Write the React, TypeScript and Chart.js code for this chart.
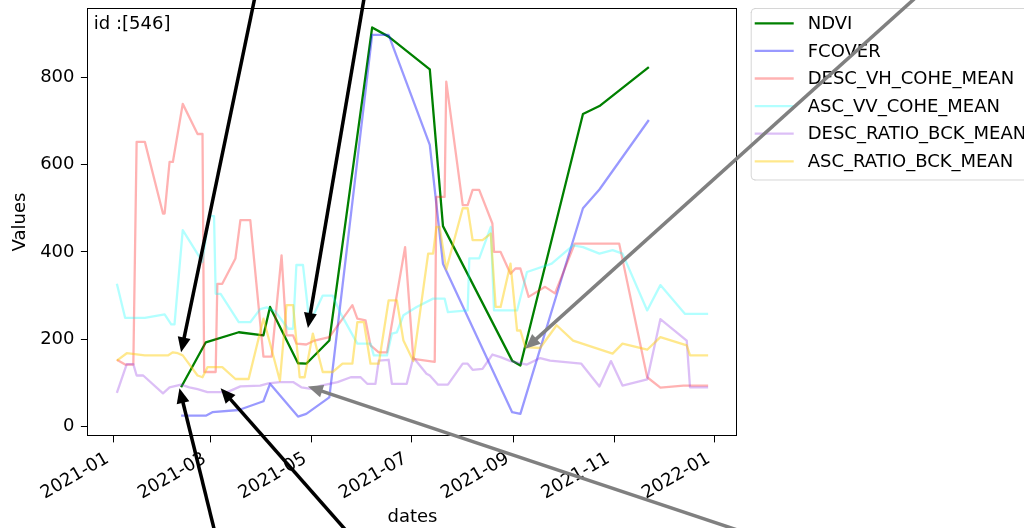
import React, { useEffect, useRef } from 'react';
import { Chart, registerables } from 'chart.js';

Chart.register(...registerables);

// ---------------- data ----------------
const ndviDates = ['2021-02-11', '2021-02-26', '2021-03-18', '2021-04-02', '2021-04-06', '2021-04-23', '2021-04-28', '2021-05-12', '2021-06-07', '2021-06-17', '2021-07-12', '2021-07-20', '2021-08-31', '2021-09-05', '2021-10-13', '2021-10-23', '2021-11-22'];
const ndviValues = [90, 193, 216, 209, 274, 145, 144, 197, 914, 893, 818, 459, 151, 140, 716, 734, 823];

const fcoverDates = ['2021-02-11', '2021-02-26', '2021-03-02', '2021-03-18', '2021-04-02', '2021-04-06', '2021-04-23', '2021-04-28', '2021-05-12', '2021-06-07', '2021-06-17', '2021-07-12', '2021-07-20', '2021-08-31', '2021-09-05', '2021-10-13', '2021-10-23', '2021-11-22'];
const fcoverValues = [25, 25, 33, 38, 58, 98, 23, 29, 67, 897, 897, 645, 373, 33, 29, 500, 543, 702];

const descVhDates = ['2021-01-03', '2021-01-08', '2021-01-13', '2021-01-15', '2021-01-20', '2021-01-31', '2021-02-01', '2021-02-04', '2021-02-06', '2021-02-12', '2021-02-21', '2021-02-24', '2021-02-25', '2021-03-04', '2021-03-05', '2021-03-08', '2021-03-16', '2021-03-19', '2021-03-25', '2021-04-02', '2021-04-07', '2021-04-13', '2021-04-16', '2021-04-20', '2021-04-22', '2021-04-28', '2021-05-03', '2021-05-12', '2021-05-26', '2021-05-29', '2021-06-03', '2021-06-06', '2021-06-11', '2021-06-16', '2021-06-27', '2021-07-02', '2021-07-15', '2021-07-16', '2021-07-21', '2021-07-22', '2021-08-01', '2021-08-04', '2021-08-07', '2021-08-11', '2021-08-19', '2021-08-20', '2021-08-24', '2021-08-30', '2021-09-02', '2021-09-05', '2021-09-10', '2021-09-20', '2021-09-26', '2021-10-08', '2021-11-04', '2021-11-21', '2021-11-29', '2021-12-13', '2021-12-28'];
const descVhValues = [153, 142, 142, 652, 652, 488, 488, 606, 606, 739, 670, 670, 125, 125, 327, 327, 385, 473, 473, 160, 160, 392, 209, 209, 190, 188, 197, 205, 278, 247, 243, 186, 170, 170, 411, 155, 148, 526, 526, 790, 507, 507, 542, 542, 465, 400, 400, 350, 362, 362, 297, 320, 305, 419, 419, 113, 89, 94, 94];

const ascVvDates = ['2021-01-03', '2021-01-08', '2021-01-20', '2021-02-01', '2021-02-05', '2021-02-07', '2021-02-12', '2021-02-24', '2021-02-28', '2021-03-03', '2021-03-04', '2021-03-07', '2021-03-18', '2021-03-25', '2021-03-31', '2021-04-04', '2021-04-09', '2021-04-17', '2021-04-20', '2021-04-22', '2021-04-26', '2021-04-30', '2021-05-08', '2021-05-14', '2021-05-19', '2021-05-29', '2021-06-06', '2021-06-08', '2021-06-16', '2021-06-19', '2021-06-22', '2021-06-26', '2021-07-04', '2021-07-14', '2021-07-21', '2021-07-23', '2021-08-04', '2021-08-05', '2021-08-11', '2021-08-18', '2021-08-20', '2021-09-03', '2021-09-09', '2021-09-24', '2021-10-07', '2021-10-13', '2021-10-23', '2021-10-31', '2021-11-06', '2021-11-21', '2021-11-29', '2021-12-14', '2021-12-28'];
const ascVvValues = [327, 249, 249, 257, 234, 234, 450, 377, 482, 482, 304, 304, 239, 239, 269, 273, 264, 224, 224, 370, 370, 236, 300, 300, 258, 190, 190, 163, 163, 213, 216, 255, 274, 293, 293, 262, 266, 385, 385, 457, 266, 266, 354, 373, 415, 411, 396, 404, 396, 266, 324, 258, 258];

const descRatioDates = ['2021-01-03', '2021-01-09', '2021-01-13', '2021-01-15', '2021-01-19', '2021-01-31', '2021-02-04', '2021-02-11', '2021-02-16', '2021-02-21', '2021-02-27', '2021-03-11', '2021-03-19', '2021-03-31', '2021-04-05', '2021-04-12', '2021-04-20', '2021-04-25', '2021-05-02', '2021-05-07', '2021-05-17', '2021-05-25', '2021-05-31', '2021-06-04', '2021-06-09', '2021-06-11', '2021-06-17', '2021-06-19', '2021-06-28', '2021-07-02', '2021-07-10', '2021-07-12', '2021-07-17', '2021-07-23', '2021-08-01', '2021-08-04', '2021-08-07', '2021-08-13', '2021-08-19', '2021-08-24', '2021-08-30', '2021-09-09', '2021-09-17', '2021-09-23', '2021-10-12', '2021-10-23', '2021-10-30', '2021-11-06', '2021-11-21', '2021-11-29', '2021-12-15', '2021-12-17', '2021-12-28'];
const descRatioValues = [77, 143, 143, 117, 117, 76, 90, 96, 90, 86, 79, 79, 92, 94, 99, 102, 102, 90, 86, 94, 102, 113, 113, 98, 98, 151, 153, 98, 98, 158, 121, 117, 96, 96, 144, 144, 130, 132, 165, 159, 150, 142, 157, 151, 144, 92, 150, 94, 108, 246, 197, 90, 90];

const ascRatioDates = ['2021-01-03', '2021-01-09', '2021-01-20', '2021-02-03', '2021-02-06', '2021-02-09', '2021-02-12', '2021-02-21', '2021-02-24', '2021-02-27', '2021-03-08', '2021-03-16', '2021-03-24', '2021-04-02', '2021-04-12', '2021-04-16', '2021-04-20', '2021-04-24', '2021-04-27', '2021-05-02', '2021-05-08', '2021-05-14', '2021-05-20', '2021-05-26', '2021-05-29', '2021-06-02', '2021-06-06', '2021-06-11', '2021-06-17', '2021-06-22', '2021-06-26', '2021-07-02', '2021-07-11', '2021-07-14', '2021-07-16', '2021-07-18', '2021-07-22', '2021-08-01', '2021-08-04', '2021-08-07', '2021-08-13', '2021-08-18', '2021-08-21', '2021-08-24', '2021-08-30', '2021-09-03', '2021-09-05', '2021-09-08', '2021-09-17', '2021-09-27', '2021-10-07', '2021-10-31', '2021-11-06', '2021-11-21', '2021-11-29', '2021-12-15', '2021-12-17', '2021-12-28'];
const ascRatioValues = [151, 168, 163, 163, 170, 168, 163, 117, 113, 136, 136, 109, 109, 247, 105, 278, 278, 113, 113, 213, 125, 125, 144, 144, 239, 239, 144, 144, 289, 289, 197, 150, 396, 396, 457, 457, 360, 500, 500, 427, 427, 442, 274, 274, 373, 220, 220, 182, 180, 232, 197, 167, 190, 176, 205, 186, 163, 163];

const seriesLabels = ['NDVI', 'FCOVER', 'DESC_VH_COHE_MEAN', 'ASC_VV_COHE_MEAN', 'DESC_RATIO_BCK_MEAN', 'ASC_RATIO_BCK_MEAN'];
const seriesColors = ['#008000', 'rgba(0,0,255,0.4)', 'rgba(255,0,0,0.3)', 'rgba(0,255,255,0.3)', 'rgba(138,43,226,0.3)', 'rgba(255,205,0,0.45)'];

const xTickDates = ['2021-01-01', '2021-03-01', '2021-05-01', '2021-07-01', '2021-09-01', '2021-11-01', '2022-01-01'];
const xTickLabels = ['2021-01', '2021-03', '2021-05', '2021-07', '2021-09', '2021-11', '2022-01'];
const yTickValues = [0, 200, 400, 600, 800];

const xTitle = 'dates';
const yTitle = 'Values';
const idText = 'id :[546]';

// annotation arrows (tail -> tip), in data coordinates
const arrowTailDates = ['2021-03-30', '2021-06-04', '2021-03-06', '2021-06-01', '2022-02-18', '2022-05-15'];
const arrowTailValues = [1023, 1023, -280, -280, -280, 1023];
const arrowTipDates = ['2021-02-11', '2021-04-29', '2021-02-10', '2021-03-07', '2021-04-29', '2021-09-08'];
const arrowTipValues = [170, 226, 88, 88, 92, 178];
const arrowColors = ['#000000', '#000000', '#000000', '#000000', '#808080', '#808080'];

// ---------------- helpers ----------------
const BASE = Date.UTC(2021, 0, 1);
function toDay(s: string): number {
  const [y, m, d] = s.split('-').map(Number);
  return (Date.UTC(y, m - 1, d) - BASE) / 86400000;
}

const allDates = [ndviDates, fcoverDates, descVhDates, ascVvDates, descRatioDates, ascRatioDates];
const allValues = [ndviValues, fcoverValues, descVhValues, ascVvValues, descRatioValues, ascRatioValues];

const FONT = '"DejaVu Sans", sans-serif';
const FS = 18;

export default function App() {
  const ref = useRef<HTMLCanvasElement | null>(null);

  useEffect(() => {
    if (!ref.current) return;
    document.body.style.margin = '0';

    const xsAll = allDates.flat().map(toDay);
    const ysAll = allValues.flat();
    const xMin0 = Math.min(...xsAll), xMax0 = Math.max(...xsAll);
    const yMin0 = Math.min(...ysAll), yMax0 = Math.max(...ysAll);
    const xm = (xMax0 - xMin0) * 0.05, ym = (yMax0 - yMin0) * 0.05;

    const datasets = seriesLabels.map((label, i) => ({
      label,
      data: allDates[i].map((d, j) => ({ x: toDay(d), y: allValues[i][j] })),
      borderColor: seriesColors[i],
      backgroundColor: seriesColors[i],
      borderWidth: 2.3,
      pointRadius: 0,
      tension: 0,
      fill: false,
      borderJoinStyle: 'round' as const,
      borderCapStyle: 'butt' as const,
      order: seriesLabels.length - i,
    }));

    const framePlugin = {
      id: 'frame',
      afterDatasetsDraw(chart: any) {
        const { ctx, chartArea: a } = chart;
        ctx.save();
        ctx.strokeStyle = '#000';
        ctx.lineWidth = 1;
        ctx.strokeRect(Math.round(a.left) + 0.5, Math.round(a.top) + 0.5, Math.round(a.right - a.left) - 1, Math.round(a.bottom - a.top) - 1);
        ctx.restore();
      },
    };

    const overlayPlugin = {
      id: 'overlay',
      afterDraw(chart: any) {
        const { ctx, chartArea: a } = chart;
        const w = a.right - a.left, h = a.bottom - a.top;
        ctx.save();
        // id text
        ctx.font = `${FS}px ${FONT}`;
        ctx.fillStyle = '#000';
        ctx.textAlign = 'left';
        ctx.textBaseline = 'alphabetic';
        ctx.fillText(idText, a.left + 0.01 * w, a.top + 0.05 * h);

        // legend
        const x0 = a.right + 0.02 * w;
        const y0 = a.top;
        const maxW = Math.max(...seriesLabels.map((l) => ctx.measureText(l).width));
        const bw = 57 + maxW + 8;
        const bh = 172;
        const r = 4;
        ctx.beginPath();
        ctx.moveTo(x0 + r, y0 + 0.5);
        ctx.lineTo(x0 + bw - r, y0 + 0.5);
        ctx.arcTo(x0 + bw, y0 + 0.5, x0 + bw, y0 + r, r);
        ctx.lineTo(x0 + bw, y0 + bh - r);
        ctx.arcTo(x0 + bw, y0 + bh, x0 + bw - r, y0 + bh, r);
        ctx.lineTo(x0 + r, y0 + bh);
        ctx.arcTo(x0 + 0.5, y0 + bh, x0 + 0.5, y0 + bh - r, r);
        ctx.lineTo(x0 + 0.5, y0 + r);
        ctx.arcTo(x0 + 0.5, y0 + 0.5, x0 + r, y0 + 0.5, r);
        ctx.closePath();
        ctx.fillStyle = 'rgba(255,255,255,0.8)';
        ctx.fill();
        ctx.strokeStyle = 'rgba(204,204,204,0.8)';
        ctx.lineWidth = 1;
        ctx.stroke();
        chart.data.datasets.forEach((ds: any, i: number) => {
          const cy = y0 + 15.3 + i * 27.6;
          ctx.beginPath();
          ctx.moveTo(x0 + 4, cy);
          ctx.lineTo(x0 + 43, cy);
          ctx.strokeStyle = ds.borderColor;
          ctx.lineWidth = 2.3;
          ctx.stroke();
          ctx.fillStyle = '#000';
          ctx.textBaseline = 'middle';
          ctx.fillText(ds.label, x0 + 57, cy + 1);
        });

        // arrows
        const xs = chart.scales.x, ys = chart.scales.y;
        const HL = 15, HW = 13;
        arrowTipDates.forEach((td, i) => {
          const tx = xs.getPixelForValue(toDay(td));
          const ty = ys.getPixelForValue(arrowTipValues[i]);
          const sx = xs.getPixelForValue(toDay(arrowTailDates[i]));
          const sy = ys.getPixelForValue(arrowTailValues[i]);
          const dx = tx - sx, dy = ty - sy;
          const len = Math.hypot(dx, dy);
          const ux = dx / len, uy = dy / len;
          const bx = tx - ux * HL, by = ty - uy * HL;
          ctx.strokeStyle = arrowColors[i];
          ctx.fillStyle = arrowColors[i];
          ctx.lineWidth = 3.5;
          ctx.lineCap = 'butt';
          ctx.beginPath();
          ctx.moveTo(sx, sy);
          ctx.lineTo(bx + ux * 2, by + uy * 2);
          ctx.stroke();
          ctx.beginPath();
          ctx.moveTo(tx, ty);
          ctx.lineTo(bx - uy * HW / 2, by + ux * HW / 2);
          ctx.lineTo(bx + uy * HW / 2, by - ux * HW / 2);
          ctx.closePath();
          ctx.fill();
        });
        ctx.restore();
      },
    };

    const chart = new Chart(ref.current, {
      type: 'line',
      data: { datasets },
      plugins: [framePlugin, overlayPlugin],
      options: {
        responsive: false,
        animation: false,
        events: [],
        devicePixelRatio: 1,
        layout: { padding: { left: 0, top: 8, right: 1024 - 737.7, bottom: 0 } },
        plugins: { legend: { display: false }, tooltip: { enabled: false } },
        scales: {
          x: {
            type: 'linear',
            min: xMin0 - xm,
            max: xMax0 + xm,
            afterFit(scale: any) {
              scale.height = 92;
              scale.paddingLeft = 0;
              scale.paddingRight = 0;
              scale.paddingTop = 0;
              scale.paddingBottom = 0;
            },
            afterBuildTicks(scale: any) { scale.ticks = xTickDates.map((d) => ({ value: toDay(d) })); },
            ticks: {
              autoSkip: false,
              minRotation: 30,
              maxRotation: 30,
              padding: 5.6,
              labelOffset: -6,
              color: '#000',
              font: { family: FONT, size: FS },
              callback: (_v: any, i: number) => xTickLabels[i],
            },
            grid: { display: true, drawOnChartArea: false, drawTicks: true, tickLength: 6.4, color: '#000', lineWidth: 1 },
            border: { display: false },
            title: { display: true, text: xTitle, color: '#000', font: { family: FONT, size: FS }, padding: { top: 0, bottom: 0 } },
          },
          y: {
            type: 'linear',
            min: yMin0 - ym,
            max: yMax0 + ym,
            afterFit(scale: any) {
              scale.width = 87.3;
              scale.paddingTop = 0;
              scale.paddingBottom = 0;
              scale.paddingLeft = 0;
              scale.paddingRight = 0;
            },
            afterBuildTicks(scale: any) { scale.ticks = yTickValues.map((v) => ({ value: v })); },
            ticks: {
              padding: 6.4,
              color: '#000',
              font: { family: FONT, size: FS },
              callback: (v: any) => String(v),
            },
            grid: { display: true, drawOnChartArea: false, drawTicks: true, tickLength: 6.4, color: '#000', lineWidth: 1 },
            border: { display: false },
            title: { display: true, text: yTitle, color: '#000', font: { family: FONT, size: FS }, padding: { top: 9.5, bottom: 0 } },
          },
        },
      },
    } as any);

    return () => chart.destroy();
  }, []);

  return (
    <div style={{ position: 'fixed', left: 0, top: 0, width: 1024, height: 528, background: '#fff' }}>
      <canvas ref={ref} width={1024} height={528} style={{ display: 'block', width: 1024, height: 528 }} />
    </div>
  );
}
